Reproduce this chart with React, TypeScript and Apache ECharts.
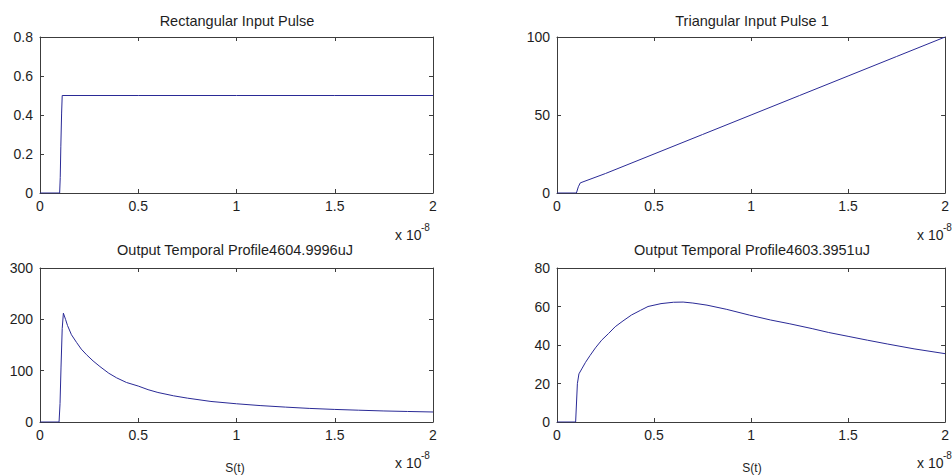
import React, { useEffect, useRef } from "react";
import * as echarts from "echarts";

// Time axis values are in units of 1e-8 s (shown with an "x 10^-8" multiplier).
const xTickInterval = 0.5;
const xMin = 0;
const xMax = 2;

// Rectangular input pulse
const rectTime = [0, 0.1, 0.103, 0.106, 0.11, 0.113, 0.5, 1, 1.5, 2];
const rectPower = [0, 0, 0.08, 0.24, 0.41, 0.5, 0.5, 0.5, 0.5, 0.5];

// Triangular input pulse
const triTime = [0, 0.1, 0.11, 0.12, 0.25, 0.5, 0.75, 1, 1.25, 1.5, 1.75, 2];
const triPower = [0, 0, 4, 6.5, 12.5, 25, 37.5, 50, 62.5, 75, 87.5, 100];

// Output temporal profile for the rectangular pulse
const outRectTime = [
  0, 0.097, 0.102, 0.107, 0.113, 0.119, 0.13, 0.14, 0.16, 0.186, 0.21, 0.237,
  0.27, 0.305, 0.35, 0.39, 0.44, 0.5, 0.55, 0.6, 0.68, 0.75, 0.87, 1, 1.12,
  1.25, 1.37, 1.5, 1.62, 1.75, 1.87, 2,
];
const outRectPower = [
  0, 0, 36, 107, 182, 212, 200, 188, 170, 155, 142, 131, 119, 108, 95, 86, 77,
  70, 63, 57.5, 51, 46.5, 40, 35.5, 32, 29, 26.5, 24.5, 23, 21.5, 20.5, 19.5,
];

// Output temporal profile for the triangular pulse
const outTriTime = [
  0, 0.096, 0.105, 0.113, 0.13, 0.147, 0.17, 0.198, 0.23, 0.266, 0.3, 0.34,
  0.384, 0.43, 0.469, 0.536, 0.6, 0.65, 0.7, 0.773, 0.875, 0.993, 1.1, 1.2,
  1.315, 1.4, 1.5, 1.6, 1.704, 1.84, 2,
];
const outTriPower = [
  0, 0, 19.9, 25, 28, 31, 34.5, 38.5, 42.5, 46, 49.5, 52.5, 55.6, 58, 60, 61.5,
  62.2, 62.3, 61.8, 60.7, 58.5, 55.5, 53, 51, 48.5, 46.5, 44.5, 42.5, 40.5, 38,
  35.5,
];

const panelTitles = [
  "Rectangular Input Pulse",
  "Triangular Input Pulse 1",
  "Output Temporal Profile4604.9996uJ",
  "Output Temporal Profile4603.3951uJ",
];
const yRanges = [
  { max: 0.8, interval: 0.2 },
  { max: 100, interval: 50 },
  { max: 300, interval: 100 },
  { max: 80, interval: 20 },
];
const xAxisName = "S(t)";

const FONT = "Liberation Sans, Arial, sans-serif";
const AXIS = "#3c3c3c";
const TEXT = "#1e1e1e";
const LINE = "#2a2a96";

const grids = [
  { left: 40, top: 37, width: 393, height: 156 },
  { left: 557, top: 37, width: 394, height: 156 },
  { left: 40, top: 268, width: 393, height: 154 },
  { left: 557, top: 268, width: 394, height: 154 },
];

const zip = (xs: number[], ys: number[]) => xs.map((x, i) => [x, ys[i]]);

export default function App() {
  const ref = useRef<HTMLDivElement>(null);

  useEffect(() => {
    if (!ref.current) return;
    const chart = echarts.init(ref.current, undefined, { renderer: "svg" });

    const seriesData = [
      zip(rectTime, rectPower),
      zip(triTime, triPower),
      zip(outRectTime, outRectPower),
      zip(outTriTime, outTriPower),
    ];

    const tick = { show: true, inside: true, length: 4, lineStyle: { color: AXIS } };
    const label = { color: TEXT, fontFamily: FONT, fontSize: 14 };

    const xAxis: any[] = [];
    const yAxis: any[] = [];
    grids.forEach((_, i) => {
      xAxis.push({
        type: "value",
        gridIndex: i,
        min: xMin,
        max: xMax,
        interval: xTickInterval,
        position: "bottom",
        axisLine: { show: true, onZero: false, lineStyle: { color: AXIS } },
        axisTick: tick,
        axisLabel: { ...label, margin: 6 },
        splitLine: { show: false },
      });
      xAxis.push({
        type: "value",
        gridIndex: i,
        min: xMin,
        max: xMax,
        interval: xTickInterval,
        position: "top",
        axisLine: { show: true, onZero: false, lineStyle: { color: AXIS } },
        axisTick: tick,
        axisLabel: { show: false },
        splitLine: { show: false },
      });
      yAxis.push({
        type: "value",
        gridIndex: i,
        min: 0,
        max: yRanges[i].max,
        interval: yRanges[i].interval,
        position: "left",
        axisLine: { show: true, onZero: false, lineStyle: { color: AXIS } },
        axisTick: tick,
        axisLabel: { ...label, margin: 7 },
        splitLine: { show: false },
      });
      yAxis.push({
        type: "value",
        gridIndex: i,
        min: 0,
        max: yRanges[i].max,
        interval: yRanges[i].interval,
        position: "right",
        axisLine: { show: true, onZero: false, lineStyle: { color: AXIS } },
        axisTick: tick,
        axisLabel: { show: false },
        splitLine: { show: false },
      });
    });

    const series = seriesData.map((data, i) => ({
      type: "line",
      xAxisIndex: i * 2,
      yAxisIndex: i * 2,
      data,
      showSymbol: false,
      symbol: "none",
      lineStyle: { color: LINE, width: 1 },
      silent: true,
    }));

    const titleCenters = [
      { x: 237, y: 21 },
      { x: 752, y: 21 },
      { x: 235, y: 250 },
      { x: 752, y: 250 },
    ];
    const multiplierPos = [
      { x: 395, y: 234.5 },
      { x: 917, y: 234.5 },
      { x: 395, y: 462.5 },
      { x: 917, y: 462.5 },
    ];

    const graphic: any[] = [];
    titleCenters.forEach((p, i) => {
      graphic.push({
        type: "text",
        x: p.x,
        y: p.y,
        silent: true,
        style: {
          text: panelTitles[i],
          font: `14.5px ${FONT}`,
          fill: TEXT,
          align: "center",
          verticalAlign: "middle",
        },
      });
    });
    multiplierPos.forEach((p) => {
      graphic.push({
        type: "text",
        x: p.x,
        y: p.y,
        silent: true,
        style: {
          text: "x 10",
          font: `14px ${FONT}`,
          fill: TEXT,
          align: "left",
          verticalAlign: "middle",
        },
      });
      graphic.push({
        type: "text",
        x: p.x + 26,
        y: p.y - 7.5,
        silent: true,
        style: {
          text: "-8",
          font: `10px ${FONT}`,
          fill: TEXT,
          align: "left",
          verticalAlign: "middle",
        },
      });
    });
    // x-axis name under each lower panel, kept inside the canvas
    [235, 752].forEach((cx) => {
      graphic.push({
        type: "text",
        x: cx,
        y: 474,
        silent: true,
        style: {
          text: xAxisName,
          font: `12px ${FONT}`,
          fill: TEXT,
          align: "center",
          verticalAlign: "bottom",
        },
      });
    });

    chart.setOption({
      animation: false,
      backgroundColor: "#ffffff",
      grid: grids.map((g) => ({ ...g, containLabel: false })),
      xAxis,
      yAxis,
      series,
      graphic,
    });

    return () => chart.dispose();
  }, []);

  return (
    <div
      ref={ref}
      style={{ position: "absolute", left: 0, top: 0, width: 952, height: 475 }}
    />
  );
}
